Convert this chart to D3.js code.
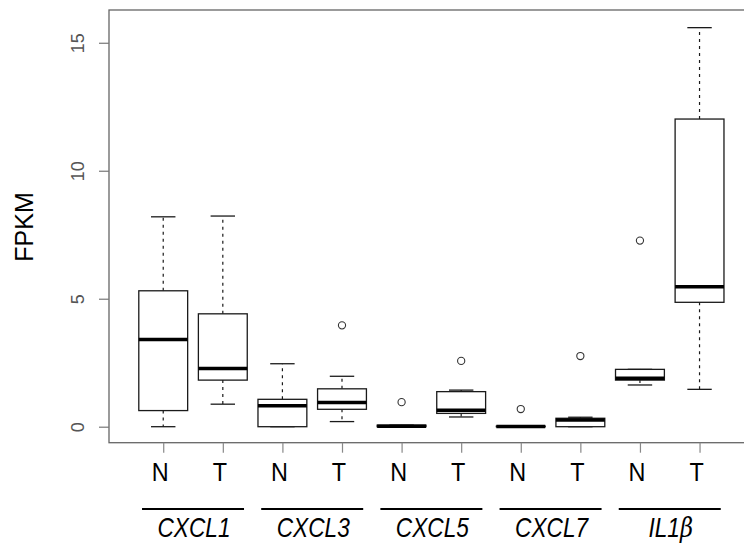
<!DOCTYPE html>
<html>
<head>
<meta charset="utf-8">
<script src="https://cdn.jsdelivr.net/npm/d3@7"></script>
<style>
  body { margin: 0; background: #fff; }
  svg { display: block; }
</style>
</head>
<body>
<svg width="744" height="549"></svg>
<script>
// genes and groups
var genes = ["CXCL1", "CXCL3", "CXCL5", "CXCL7", "IL1"];
var groups = ["N", "T"];
// box stats per box (N then T for each gene): [lowWhisker, Q1, median, Q3, highWhisker]
var lowWhisker  = [0.00, 0.88, 0.00, 0.20, 0.00, 0.38, 0.00, 0.00, 1.63, 1.46];
var q1          = [0.63, 1.82, 0.00, 0.68, 0.00, 0.52, 0.00, 0.00, 1.82, 4.86];
var medians     = [3.41, 2.27, 0.82, 0.95, 0.02, 0.64, 0.01, 0.26, 1.89, 5.47];
var q3          = [5.31, 4.41, 1.07, 1.48, 0.06, 1.37, 0.02, 0.33, 2.24, 12.02];
var highWhisker = [8.20, 8.23, 2.46, 1.97, 0.06, 1.43, 0.02, 0.37, 2.24, 15.59];
var outliers    = [[], [], [], [3.96], [0.96], [2.57], [0.69], [2.76], [7.27], []];
var yTicks = [0, 5, 10, 15];

var boxes = medians.map(function(m, i) {
  return {pos: i + 1, lo: lowWhisker[i], q1: q1[i], med: m, q3: q3[i], hi: highWhisker[i], out: outliers[i]};
});

var svg = d3.select("svg");
var x = d3.scaleLinear().domain([0.09, 10.83]).range([109, 749]);
var y = d3.scaleLinear().domain([-0.625, 16.28]).range([442.7, 10]);
var boxW = x(1.82) - x(1);
var capW = boxW / 2;
var ink = "#1a1a1a";
var font = "Liberation Sans, Arial, sans-serif";

// frame
svg.append("rect")
  .attr("x", x.range()[0]).attr("y", y.range()[1])
  .attr("width", x.range()[1] - x.range()[0])
  .attr("height", y.range()[0] - y.range()[1])
  .attr("fill", "none").attr("stroke", "#666").attr("stroke-width", 1.3);

// y axis
var yAxis = svg.append("g")
  .attr("transform", "translate(" + x.range()[0] + ",0)")
  .call(d3.axisLeft(y).tickValues(yTicks).tickSize(10).tickPadding(0));
yAxis.select(".domain").remove();
yAxis.selectAll("line").attr("stroke", "#777").attr("stroke-width", 1.2);
yAxis.selectAll("text")
  .attr("x", null).attr("dy", null)
  .attr("transform", "translate(-25,0) rotate(-90)")
  .attr("text-anchor", "middle")
  .attr("font-family", font)
  .attr("font-size", 18).attr("fill", "#555");

// x axis ticks
var xAxis = svg.append("g")
  .attr("transform", "translate(0," + y.range()[0] + ")")
  .call(d3.axisBottom(x).tickValues(d3.range(1, 11)).tickSize(10).tickFormat(""));
xAxis.select(".domain").remove();
xAxis.selectAll("line").attr("stroke", "#888").attr("stroke-width", 1.2);

// N / T labels
svg.append("g").selectAll("text")
  .data(boxes).enter().append("text")
  .attr("transform", function(d) { return "translate(" + (x(d.pos) - 3) + ",481) scale(0.9,1)"; })
  .attr("text-anchor", "middle")
  .attr("font-family", font)
  .attr("font-size", 26).attr("fill", "#000")
  .text(function(d, i) { return groups[i % 2]; });

// gene labels and lines
function pairMid(i) { return (x(2 * i + 1) + x(2 * i + 2)) / 2; }
var geneG = svg.append("g").selectAll("g")
  .data(genes).enter().append("g");
geneG.append("line")
  .attr("x1", function(d, i) { return pairMid(i) - 51; })
  .attr("x2", function(d, i) { return pairMid(i) + 51; })
  .attr("y1", 509).attr("y2", 509)
  .attr("stroke", "#000").attr("stroke-width", 2);
var geneText = geneG.append("text")
  .attr("transform", function(d, i) { return "translate(" + (pairMid(i) + 1) + ",537) scale(0.84,1)"; })
  .attr("text-anchor", "middle")
  .attr("font-family", font)
  .attr("font-style", "italic")
  .attr("font-size", 27).attr("fill", "#000")
  .text(function(d) { return d; });
geneText.filter(function(d) { return d === "IL1"; })
  .append("tspan")
  .attr("font-family", "DejaVu Serif, serif")
  .attr("font-size", 27)
  .text("\u03B2");

// FPKM title
svg.append("text")
  .attr("transform", "translate(33,227) rotate(-90)")
  .attr("text-anchor", "middle")
  .attr("font-family", font)
  .attr("font-size", 25).attr("fill", "#000")
  .text("FPKM");

// boxes
var b = svg.append("g").selectAll("g")
  .data(boxes).enter().append("g");

// whiskers
b.append("line")
  .attr("x1", function(d) { return x(d.pos); }).attr("x2", function(d) { return x(d.pos); })
  .attr("y1", function(d) { return y(d.q3); }).attr("y2", function(d) { return y(d.hi); })
  .attr("stroke", ink).attr("stroke-width", 1.2).attr("stroke-dasharray", "3,4");
b.append("line")
  .attr("x1", function(d) { return x(d.pos); }).attr("x2", function(d) { return x(d.pos); })
  .attr("y1", function(d) { return y(d.q1); }).attr("y2", function(d) { return y(d.lo); })
  .attr("stroke", ink).attr("stroke-width", 1.2).attr("stroke-dasharray", "3,4");

// caps
["hi", "lo"].forEach(function(k) {
  b.append("line")
    .attr("x1", function(d) { return x(d.pos) - capW / 2; })
    .attr("x2", function(d) { return x(d.pos) + capW / 2; })
    .attr("y1", function(d) { return y(d[k]); }).attr("y2", function(d) { return y(d[k]); })
    .attr("stroke", ink).attr("stroke-width", 1.3);
});

// box
b.append("rect")
  .attr("x", function(d) { return x(d.pos) - boxW / 2; })
  .attr("width", boxW)
  .attr("y", function(d) { return y(d.q3); })
  .attr("height", function(d) { return y(d.q1) - y(d.q3); })
  .attr("fill", "#fff").attr("stroke", ink).attr("stroke-width", 1.3);

// median
b.append("line")
  .attr("x1", function(d) { return x(d.pos) - boxW / 2; })
  .attr("x2", function(d) { return x(d.pos) + boxW / 2; })
  .attr("y1", function(d) { return y(d.med); }).attr("y2", function(d) { return y(d.med); })
  .attr("stroke", "#000").attr("stroke-width", 3.5);

// outliers
b.selectAll("circle")
  .data(function(d) { return d.out.map(function(v) { return {pos: d.pos, v: v}; }); })
  .enter().append("circle")
  .attr("cx", function(d) { return x(d.pos); })
  .attr("cy", function(d) { return y(d.v); })
  .attr("r", 3.6)
  .attr("fill", "none").attr("stroke", "#333").attr("stroke-width", 1.1);
</script>
</body>
</html>
